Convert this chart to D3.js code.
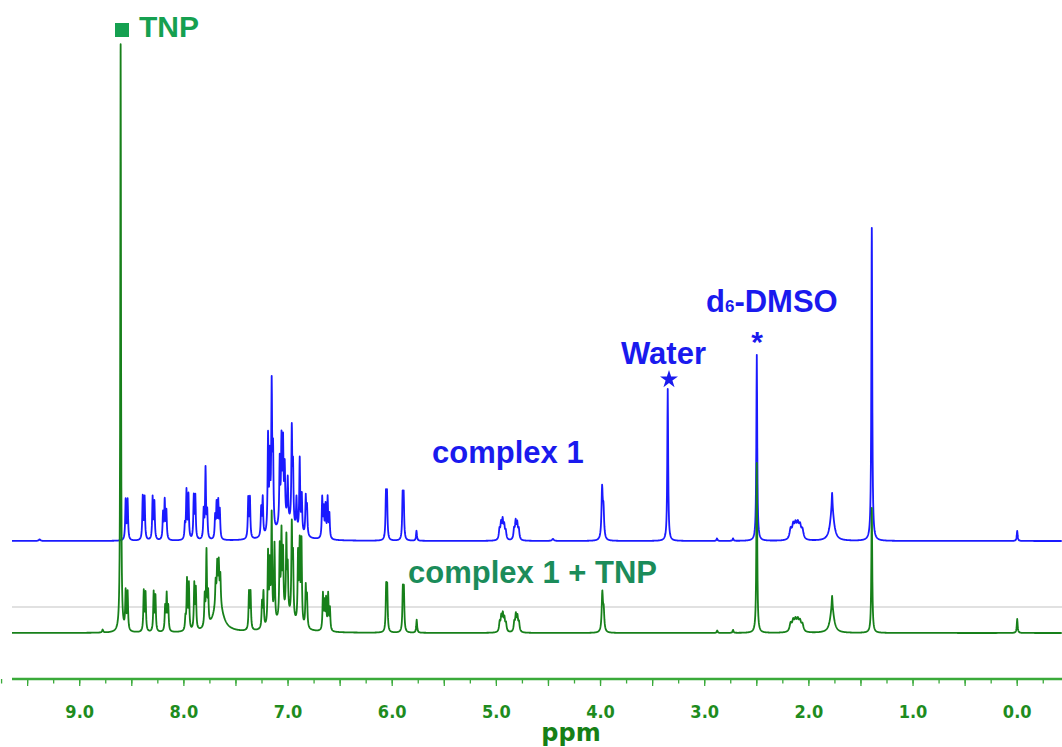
<!DOCTYPE html>
<html>
<head>
<meta charset="utf-8">
<script src="https://cdn.jsdelivr.net/npm/d3@7"></script>
<style>
  body { margin: 0; background: #fff; }
  svg { display: block; }
</style>
</head>
<body>
<div id="chart"></div>
<script>
// peak lists: [ppm, height, half width (ppm, optional)]
var complex1Peaks = [
  [9.385, 1.5, 0.01],
  [8.559, 40], [8.540, 40],
  [8.395, 43], [8.377, 42],
  [8.300, 42], [8.283, 37],
  [8.200, 26], [8.184, 38], [8.168, 28],
  [7.990, 14], [7.975, 48], [7.956, 44],
  [7.905, 42], [7.890, 42],
  [7.810, 28], [7.792, 70], [7.776, 26],
  [7.700, 22], [7.686, 34], [7.670, 36], [7.655, 28],
  [7.382, 40], [7.366, 40],
  [7.258, 28], [7.243, 38],
  [7.192, 96], [7.175, 70], [7.157, 142], [7.144, 74],
  [7.080, 64], [7.063, 80], [7.048, 76], [7.032, 52], [7.003, 42],
  [6.964, 94], [6.952, 56], [6.919, 32], [6.888, 74], [6.868, 38], [6.830, 38], [6.818, 28],
  [7.02, 18, 0.09],
  [6.672, 40], [6.657, 28], [6.640, 32], [6.620, 40], [6.603, 24],
  [6.060, 43], [6.050, 43],
  [5.900, 42], [5.890, 42],
  [5.767, 10],
  [4.970, 10, 0.007], [4.955, 15, 0.007], [4.940, 18, 0.007], [4.925, 13, 0.007], [4.910, 8, 0.007],
  [4.830, 10, 0.007], [4.815, 17, 0.007], [4.800, 15, 0.007], [4.785, 10, 0.007],
  [4.457, 2, 0.01],
  [3.985, 50, 0.007], [3.972, 28, 0.007],
  [3.355, 152],
  [2.882, 2.5], [2.728, 2.5],
  [2.500, 186],
  [2.175, 10, 0.012], [2.150, 13, 0.012], [2.128, 13, 0.012], [2.106, 13, 0.012], [2.085, 12, 0.012], [2.062, 9, 0.012],
  [1.777, 16, 0.004], [1.777, 32, 0.022],
  [1.396, 313],
  [0.000, 10]
];

var complexTnpPeaks = [
  [8.780, 3, 0.006],
  [8.607, 588, 0.004],
  [8.559, 38], [8.540, 38],
  [8.385, 40], [8.368, 38],
  [8.290, 39], [8.273, 35],
  [8.180, 24], [8.165, 36], [8.150, 24],
  [7.985, 12], [7.970, 50], [7.952, 46],
  [7.900, 45], [7.885, 40],
  [7.800, 30], [7.783, 74], [7.767, 30],
  [7.670, 32, 0.05],
  [7.695, 24], [7.680, 36], [7.665, 36], [7.650, 28],
  [7.375, 37], [7.360, 37],
  [7.250, 25], [7.236, 35],
  [7.192, 72], [7.175, 58], [7.157, 108], [7.130, 78],
  [7.080, 70], [7.063, 80], [7.048, 60], [7.016, 74], [7.003, 44],
  [6.964, 90], [6.952, 58], [6.904, 68], [6.888, 78], [6.871, 83], [6.830, 40], [6.818, 30],
  [7.02, 16, 0.09],
  [6.665, 36], [6.650, 26], [6.635, 30], [6.615, 36], [6.598, 22],
  [6.058, 42], [6.048, 42],
  [5.898, 40], [5.888, 40],
  [5.765, 13],
  [4.968, 9, 0.007], [4.953, 14, 0.007], [4.938, 16, 0.007], [4.923, 12, 0.007], [4.908, 8, 0.007],
  [4.828, 9, 0.007], [4.813, 16, 0.007], [4.798, 14, 0.007], [4.783, 9, 0.007],
  [3.983, 38, 0.007], [3.970, 20, 0.007],
  [2.880, 2.5], [2.728, 3],
  [2.500, 170],
  [2.175, 8, 0.012], [2.150, 10, 0.012], [2.128, 10, 0.012], [2.106, 10, 0.012], [2.085, 9, 0.012], [2.062, 7, 0.012],
  [1.777, 12, 0.004], [1.777, 25, 0.022],
  [1.396, 125],
  [0.000, 14]
];

var majorTicks = [9.5, 9.0, 8.5, 8.0, 7.5, 7.0, 6.5, 6.0, 5.5, 5.0, 4.5, 4.0, 3.5, 3.0, 2.5, 2.0, 1.5, 1.0, 0.5, 0.0, -0.5];
var tickLabels = ["9.0", "8.0", "7.0", "6.0", "5.0", "4.0", "3.0", "2.0", "1.0", "0.0"];
var labelValues = [9, 8, 7, 6, 5, 4, 3, 2, 1, 0];

var width = 1062, height = 747;
var blueOffset = 92;      // complex 1 trace sits above the complex 1 + TNP trace
var refLevel = 26;        // grey reference line

var svg = d3.select("#chart").append("svg")
            .attr("width", width)
            .attr("height", height);

var x = d3.scaleLinear().domain([9.65, -0.43]).range([12, 1062]);
var y = d3.scaleLinear().domain([0, 600]).range([633, 33]);

// Lorentzian line shapes summed over a ppm grid
function spectrum(peaks) {
  var pts = d3.range(9.65, -0.43, -0.0025);
  peaks.forEach(function (p) { pts.push(p[0]); });
  pts.sort(function (a, b) { return b - a; });
  return pts.map(function (v) {
    var s = 0;
    peaks.forEach(function (p) {
      var w = p[2] || 0.005;
      var d = v - p[0];
      s += p[1] * w * w / (d * d + w * w);
    });
    return [v, s];
  });
}

// grey reference line
svg.append("line")
   .attr("x1", 12).attr("x2", width)
   .attr("y1", y(refLevel)).attr("y2", y(refLevel))
   .attr("stroke", "#c4c4c4")
   .attr("stroke-width", 1.2);

var line = d3.line()
             .x(function (d) { return x(d[0]); })
             .y(function (d) { return y(d[1]); });

svg.append("path")
   .datum(spectrum(complex1Peaks).map(function (d) { return [d[0], d[1] + blueOffset]; }))
   .attr("d", line)
   .attr("fill", "none")
   .attr("stroke", "#1a1aff")
   .attr("stroke-width", 1.8)
   .attr("stroke-linejoin", "round");

svg.append("path")
   .datum(spectrum(complexTnpPeaks))
   .attr("d", line)
   .attr("fill", "none")
   .attr("stroke", "#17801a")
   .attr("stroke-width", 1.8)
   .attr("stroke-linejoin", "round");

// axis
var axisY = 679;
var axis = svg.append("g").attr("transform", "translate(0," + axisY + ")");
axis.append("line")
    .attr("x1", 12).attr("x2", width)
    .attr("stroke", "#3aaa3a").attr("stroke-width", 2.5);
axis.selectAll(".minor")
    .data(d3.range(9.75, -0.5, -0.25))
    .enter().append("line")
    .attr("x1", function (d) { return x(d); })
    .attr("x2", function (d) { return x(d); })
    .attr("y1", 0).attr("y2", 4.5)
    .attr("stroke", "#3aaa3a").attr("stroke-width", 1.3);
axis.selectAll(".major")
    .data(majorTicks)
    .enter().append("line")
    .attr("x1", function (d) { return x(d); })
    .attr("x2", function (d) { return x(d); })
    .attr("y1", 0).attr("y2", 7)
    .attr("stroke", "#3aaa3a").attr("stroke-width", 1.3);
axis.selectAll(".lab")
    .data(labelValues)
    .enter().append("text")
    .attr("x", function (d) { return x(d); })
    .attr("y", 39)
    .attr("text-anchor", "middle")
    .attr("font-family", "'DejaVu Sans', sans-serif")
    .attr("font-stretch", "condensed")
    .attr("font-weight", "bold")
    .attr("font-size", 18)
    .attr("fill", "#1e8c1e")
    .text(function (d, i) { return tickLabels[i]; });

svg.append("text")
   .attr("x", 571).attr("y", 741)
   .attr("text-anchor", "middle")
   .attr("font-family", "'DejaVu Sans', sans-serif")
   .attr("font-weight", "bold")
   .attr("font-size", 24)
   .attr("fill", "#168016")
   .text("ppm");

// annotations
var font = "'Liberation Sans', Arial, sans-serif";

svg.append("rect")
   .attr("x", 115).attr("y", 23).attr("width", 14).attr("height", 14)
   .attr("fill", "#15a050");
svg.append("text")
   .attr("x", 139).attr("y", 37)
   .attr("font-family", font).attr("font-weight", "bold").attr("font-size", 30)
   .attr("fill", "#15a050")
   .text("TNP");

svg.append("text")
   .attr("x", 432).attr("y", 463)
   .attr("font-family", font).attr("font-weight", "bold").attr("font-size", 31)
   .attr("fill", "#1a1aee")
   .text("complex 1");

svg.append("text")
   .attr("x", 408).attr("y", 583)
   .attr("font-family", font).attr("font-weight", "bold").attr("font-size", 31)
   .attr("fill", "#1b8c5a")
   .text("complex 1 + TNP");

svg.append("text")
   .attr("x", 621).attr("y", 364)
   .attr("font-family", font).attr("font-weight", "bold").attr("font-size", 31)
   .attr("fill", "#1a1aee")
   .text("Water");

svg.append("path")
   .attr("d", d3.symbol().type(d3.symbolStar).size(100)())
   .attr("transform", "translate(669,379.5)")
   .attr("fill", "#1a1aee");

var dmso = svg.append("text")
   .attr("x", 706).attr("y", 312)
   .attr("font-family", font).attr("font-weight", "bold").attr("font-size", 31)
   .attr("fill", "#1a1aee");
dmso.append("tspan").text("d");
dmso.append("tspan").attr("font-size", 17).text("6");
dmso.append("tspan").text("-DMSO");

svg.append("text")
   .attr("x", 757).attr("y", 352)
   .attr("text-anchor", "middle")
   .attr("font-family", font).attr("font-weight", "bold").attr("font-size", 30)
   .attr("fill", "#1a1aee")
   .text("*");
</script>
</body>
</html>
